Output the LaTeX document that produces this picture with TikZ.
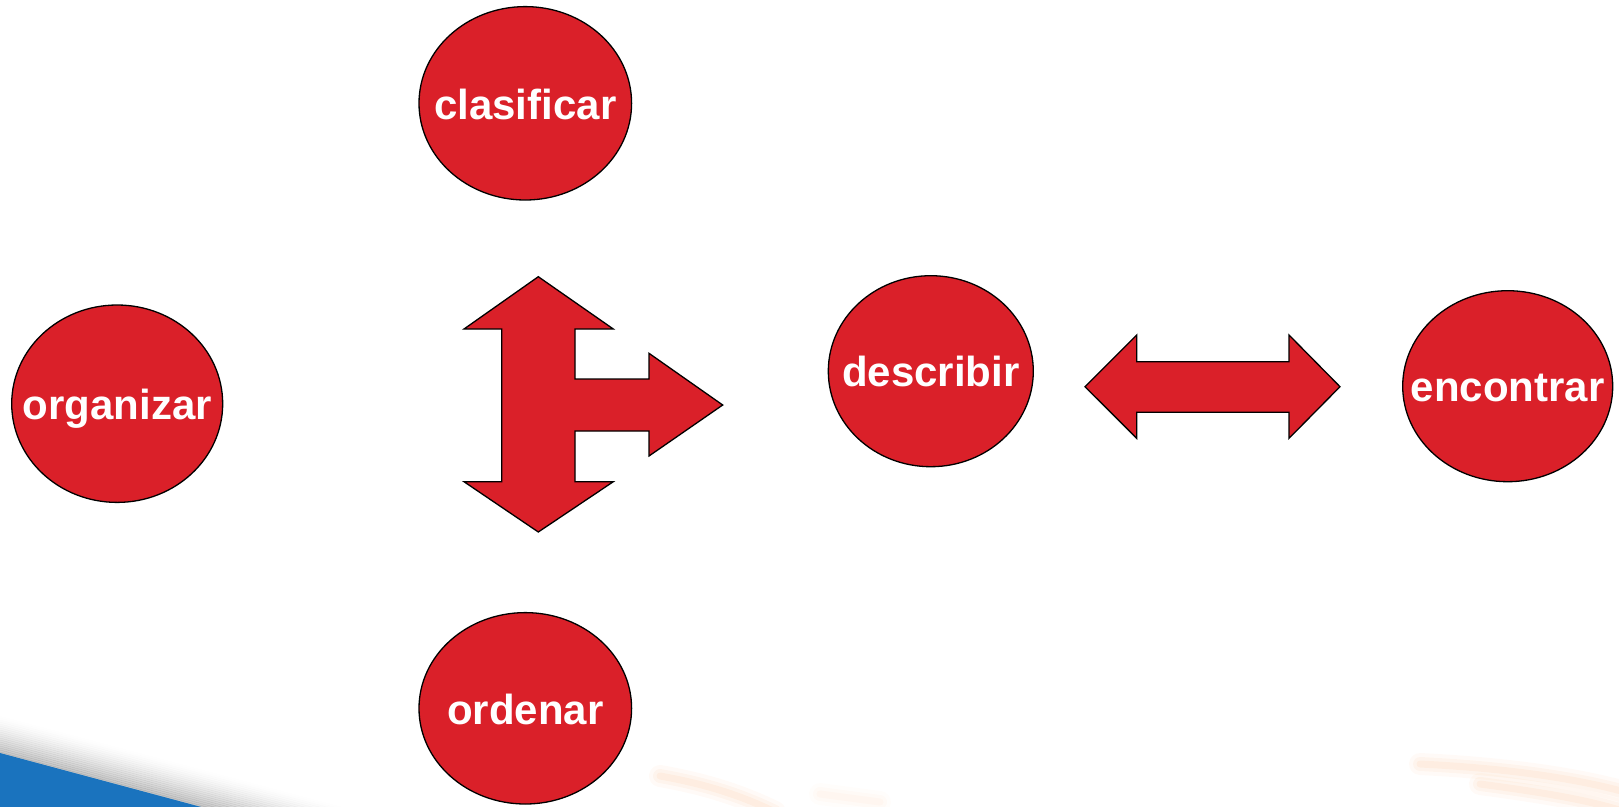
\documentclass[tikz,border=0pt]{standalone}
\usepackage{fontspec}
\setmainfont{Liberation Sans}
\usetikzlibrary{shapes.geometric}
\definecolor{boxred}{RGB}{218,32,41}
\definecolor{slideblue}{RGB}{26,115,190}
\definecolor{swoosh}{RGB}{250,165,100}
\newcommand{\verbtext}[1]{\makebox[0pt][c]{#1}}
\tikzset{
  verb/.style={ellipse, draw=black, line width=1.3pt, fill=boxred, inner sep=0pt,
    text=white, font=\fontsize{42}{42}\selectfont\bfseries,
    text height=31.4pt, text depth=0pt, text width=0pt, align=center},
  blockarrow/.style={draw=black, line width=1.3pt, fill=boxred, line join=miter}
}
\begin{document}
\begin{tikzpicture}[x=1pt,y=-1pt]
\useasboundingbox (0,0) rectangle (1619,806);
\begin{scope}
\clip (0,0) rectangle (1619,806);
% background decoration: grey shadow and blue band at bottom left
\foreach \i in {0,...,18}{
  \pgfmathsetmacro{\op}{0.42*(1-\i/19)^1.5}
  \draw[line width=2.2pt, color=black!55, opacity=\op] (0,{753-2*\i}) -- (440,{753-2*\i+117});
}
\fill[slideblue] (0,753) -- (205,808) -- (0,808) -- cycle;
% faint orange swooshes
\foreach \w/\o in {22/0.05,14/0.07,7/0.09}{
  \draw[swoosh, line width=\w pt, opacity=\o, line cap=round] (660,776) .. controls (705,784) and (740,795) .. (775,812);
  \draw[swoosh, line width=\w pt, opacity=\o*0.5, line cap=round] (820,794) -- (880,802);
  \draw[swoosh, line width=\w pt, opacity=\o, line cap=round] (1420,764) .. controls (1500,768) and (1570,777) .. (1625,792);
  \draw[swoosh, line width=\w pt, opacity=\o, line cap=round] (1480,784) .. controls (1540,792) and (1590,800) .. (1625,812);
}
\end{scope}
% nodes
\node[verb, minimum width=212.6pt, minimum height=193.4pt] (clasificar) at (525.3,103.3) {\verbtext{clasificar}};
\node[verb, minimum width=211pt, minimum height=197.4pt] (organizar) at (117.2,403.7) {\verbtext{organizar}};
\node[verb, minimum width=205pt, minimum height=191pt] (describir) at (930.8,371.2) {\verbtext{describir}};
\node[verb, minimum width=210pt, minimum height=191pt] (encontrar) at (1507.7,386.2) {\verbtext{encontrar}};
\node[verb, minimum width=212.6pt, minimum height=191.4pt] (ordenar) at (525.3,708.3) {\verbtext{ordenar}};
% three-way block arrow
\draw[blockarrow] (538.3,276.7) -- (613.3,329) -- (575,329) -- (575,379) -- (649,379) -- (649,353.3)
  -- (722.7,405) -- (649,456) -- (649,431) -- (575,431) -- (575,481.7) -- (613.3,481.7)
  -- (538.3,532) -- (464,481.7) -- (501.7,481.7) -- (501.7,329) -- (464,329) -- cycle;
% double block arrow
\draw[blockarrow] (1085,386.7) -- (1136.7,335) -- (1136.7,361.7) -- (1289,361.7) -- (1289,335)
  -- (1340,386.7) -- (1289,438.3) -- (1289,412.3) -- (1136.7,412.3) -- (1136.7,438.3) -- cycle;
\end{tikzpicture}
\end{document}
